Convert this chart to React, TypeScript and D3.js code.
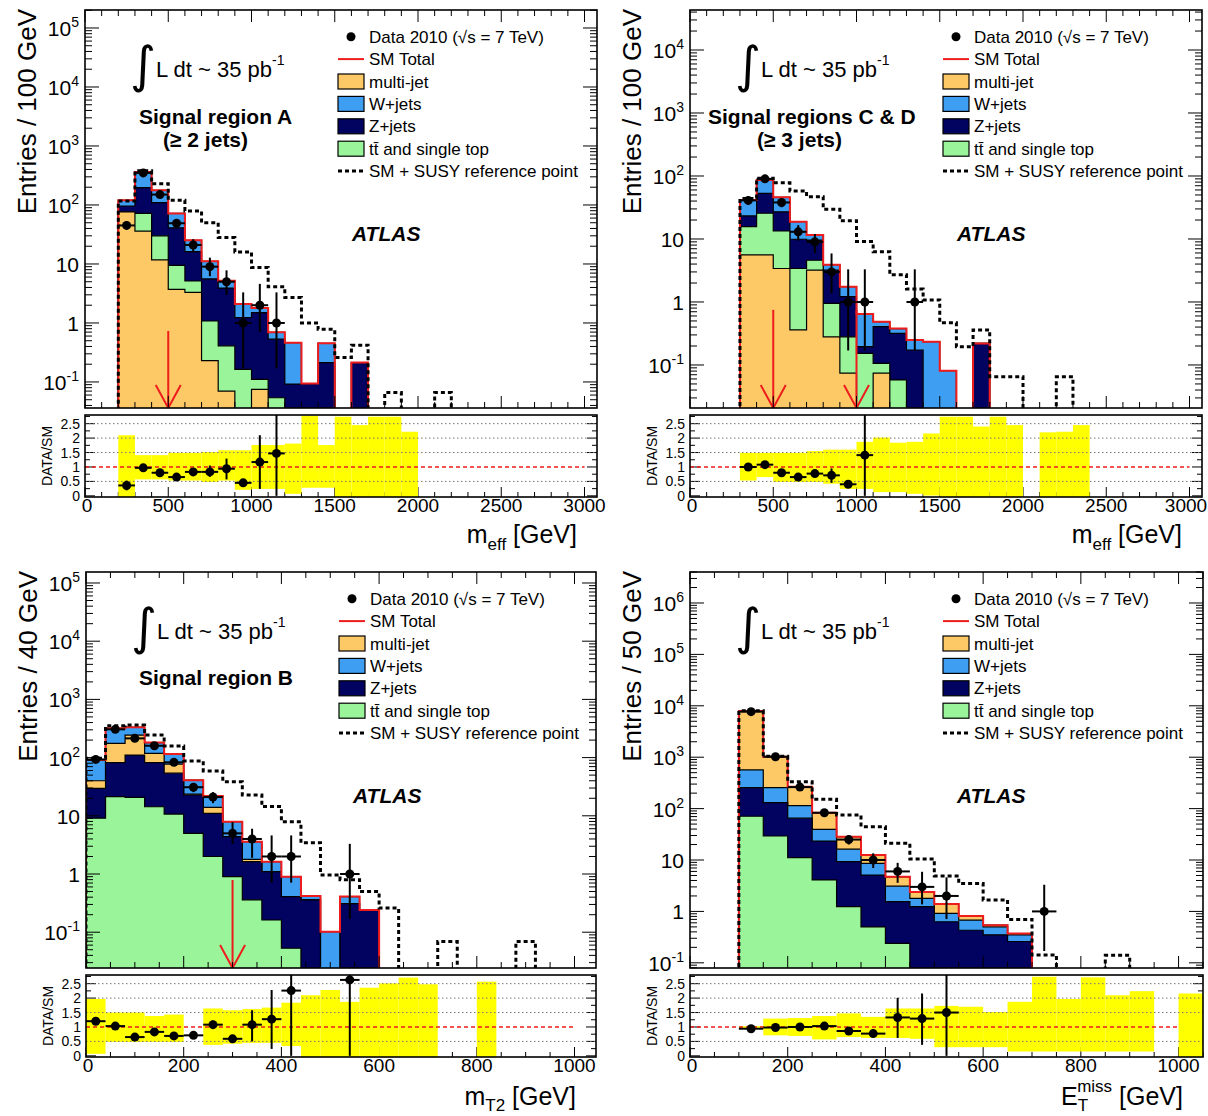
import React from "react";
import * as d3 from "d3";

const FONT = "'Liberation Sans', Arial, Helvetica, sans-serif";
const COLORS: any = { mj: "#fcc966", w: "#3d9ef2", z: "#020260", tt: "#9af59a" };
const C_RED = "#ee1c1c";

// ---------- signal region A : m_eff, 100 GeV bins ----------
const aBins = [200, 300, 400, 500, 600, 700, 800, 900, 1000, 1100, 1200, 1300, 1400, 1500, 1600];
const aMultijet = [76, 36, 11.7, 3.7, 3.3, 0.23, 0.07, 0, 0.075, 0, 0, 0, 0, 0, 0];
const aTop = [0.4, 36, 18.3, 5.8, 1.85, 0.85, 0.34, 0.164, 0.036, 0.054, 0, 0, 0, 0, 0];
const aZjets = [19.6, 125, 80, 31.5, 11, 4.5, 3.5, 1.07, 1.39, 0.48, 0.092, 0.094, 0.213, 0, 0.213];
const aWjets = [24, 165, 67, 31, 9, 5.5, 1.3, 0.87, 0.3, 0.16, 0.37, 0, 0.24, 0, 0];
const aSusyBins = [200, 300, 400, 500, 600, 700, 800, 900, 1000, 1100, 1200, 1300, 1400, 1500, 1600, 1700, 1800, 1900, 2000, 2100];
const aSusy = [117, 380, 229, 120, 79, 50, 28, 16, 8.7, 4.1, 2.7, 1.0, 0.78, 0.26, 0.42, 0, 0.066, 0, 0, 0.066];
const aDataX = [250, 350, 450, 550, 650, 750, 850, 950, 1050, 1150];
const aData = [45, 350, 150, 49, 21, 9, 5, 1, 2, 1];
const aDataLo = [38.4, 331, 137, 41.6, 15.7, 6.2, 3.0, 0.17, 0.71, 0.17];
const aDataHi = [52.7, 369, 163, 56.4, 26.3, 12.8, 7.8, 3.3, 4.6, 3.3];
const aRatio = [0.36, 0.97, 0.8, 0.65, 0.83, 0.83, 0.94, 0.45, 1.17, 1.47];
const aRatioLo = [0.19, 0.92, 0.74, 0.57, 0.72, 0.66, 0.57, 0.42, 0.24, 0];
const aRatioHi = [0.53, 1.02, 0.86, 0.73, 0.95, 1.05, 1.29, 0.48, 2.1, 3.2];
const aBandBins = [200, 300, 400, 500, 600, 700, 800, 900, 1000, 1100, 1200, 1300, 1400, 1500, 1600, 1700, 1800, 1900];
const aBandHi = [2.1, 1.41, 1.41, 1.49, 1.49, 1.52, 1.58, 1.58, 1.76, 1.76, 1.81, 2.77, 1.76, 2.74, 2.45, 2.74, 2.74, 2.22];
const aBandLo = [0, 0.57, 0.57, 0.53, 0.53, 0.48, 0.53, 0.21, 0.24, 0.24, 0.07, 0.28, 0.28, 0, 0, 0, 0, 0];

// ---------- signal regions C & D : m_eff, 100 GeV bins ----------
const cBins = [300, 400, 500, 600, 700, 800, 900, 1000, 1100, 1200, 1300, 1400, 1500, 1600, 1700];
const cMultijet = [5.6, 5.6, 3.4, 0.36, 3.2, 0.28, 0.074, 0, 0.074, 0, 0, 0, 0, 0, 0];
const cTop = [10.1, 20, 10, 3.04, 1.4, 0.67, 0.206, 0.153, 0.032, 0.058, 0, 0, 0, 0, 0];
const cZjets = [7.5, 27.4, 13.6, 6.5, 5.0, 2.25, 0.94, 0.042, 0.3, 0.26, 0.173, 0, 0, 0, 0.22];
const cWjets = [18.4, 33, 19, 8.9, 2.0, 0.7, 0.53, 0.45, 0.08, 0.06, 0.077, 0.234, 0.081, 0, 0];
const cSusyBins = [300, 400, 500, 600, 700, 800, 900, 1000, 1100, 1200, 1300, 1400, 1500, 1600, 1700, 1800, 1900, 2000, 2100, 2200];
const cSusy = [44, 92, 78, 58, 47, 29.6, 19.5, 9.1, 6.3, 2.7, 1.6, 1.08, 0.47, 0.195, 0.36, 0.065, 0.065, 0, 0, 0.065];
const cDataX = [350, 450, 550, 650, 750, 850, 950, 1050, 1350];
const cData = [41, 90, 38, 13, 9, 3, 1, 1, 1];
const cDataLo = [34.6, 80.5, 31.9, 9.4, 6.0, 1.37, 0.17, 0.17, 0.17];
const cDataHi = [47.4, 99.5, 44.1, 16.6, 12.0, 5.9, 3.3, 3.3, 3.3];
const cRatioX = [350, 450, 550, 650, 750, 850, 950, 1050];
const cRatio = [1.0, 1.08, 0.8, 0.65, 0.77, 0.71, 0.4, 1.41];
const cRatioLo = [0.93, 1.02, 0.72, 0.57, 0.68, 0.45, 0.36, 0];
const cRatioHi = [1.07, 1.14, 0.88, 0.73, 0.86, 0.95, 0.44, 3.2];
const cBandBins = [300, 400, 500, 600, 700, 800, 900, 1000, 1100, 1200, 1300, 1400, 1500, 1600, 1700, 1800, 1900, 2000, 2100, 2200, 2300];
const cBandHi = [1.49, 1.49, 1.49, 1.49, 1.55, 1.6, 1.6, 1.87, 2.02, 1.84, 1.87, 2.16, 2.74, 2.74, 2.4, 2.74, 2.45, null, 2.2, 2.22, 2.45];
const cBandLo = [0.53, 0.65, 0.48, 0.48, 0.48, 0.42, 0.24, 0.24, 0.13, 0.13, 0.07, 0.01, 0, 0, 0, 0, 0, null, 0, 0, 0];

// ---------- signal region B : m_T2, 40 GeV bins ----------
const bBins = [0, 40, 80, 120, 160, 200, 240, 280, 320, 360, 400, 440, 480, 520, 560];
const bTop = [9.1, 21.3, 20.7, 14.3, 10.7, 5.0, 2.0, 0.9, 0.36, 0.162, 0.053, 0, 0, 0, 0];
const bZjets = [20.5, 60.7, 90, 67.7, 43.3, 17.8, 9.0, 3.5, 1.27, 0.94, 0.357, 0.36, 0, 0.31, 0.24];
const bMultijet = [10.4, 94, 133, 36, 23, 0.9, 3.0, 0, 0.16, 0, 0, 0, 0, 0, 0];
const bWjets = [51, 143, 87, 63, 38, 17.3, 7.9, 3.5, 1.8, 0.53, 0.49, 0.06, 0.102, 0.1, 0];
const bSusyBins = [0, 40, 80, 120, 160, 200, 240, 280, 320, 360, 400, 440, 480, 520, 560, 600, 640, 680, 720, 760, 800, 840, 880];
const bSusy = [97, 353, 363, 244, 158, 87.5, 59, 38.5, 22.8, 14.4, 7.9, 3.45, 0.96, 0.8, 0.5, 0.26, 0, 0, 0.069, 0, 0, 0, 0.069];
const bDataX = [20, 60, 100, 140, 180, 220, 260, 300, 340, 380, 420, 540];
const bData = [93, 306, 214, 160, 83, 31, 21, 5, 4, 2, 2, 1];
const bDataLo = [83.4, 288.5, 199.4, 147.4, 74, 25.5, 16.5, 3.3, 1.9, 0.71, 0.71, 0.17];
const bDataHi = [102.6, 323.5, 228.6, 172.6, 92, 36.5, 25.5, 7.8, 6.0, 4.6, 4.6, 3.3];
const bRatio = [1.2, 1.03, 0.65, 0.83, 0.69, 0.71, 1.08, 0.59, 1.08, 1.27, 2.26, 2.63];
const bRatioLo = [1.12, 0.97, 0.6, 0.77, 0.63, 0.63, 0.94, 0.54, 0.5, 0.24, 0, 0];
const bRatioHi = [1.28, 1.09, 0.7, 0.89, 0.75, 0.79, 1.22, 0.64, 1.58, 2.28, 3.2, 3.2];
const bBandBins = [0, 40, 80, 120, 160, 200, 240, 280, 320, 360, 400, 440, 480, 520, 560, 600, 640, 680, 720, 760, 800];
const bBandHi = [1.97, 1.5, 1.5, 1.38, 1.43, null, 1.64, 1.58, 1.62, 1.67, 1.84, 2.1, 2.28, 1.87, 2.36, 2.51, 2.71, 2.48, null, null, 2.57];
const bBandLo = [0.07, 0.48, 0.48, 0.48, 0.48, null, 0.38, 0.42, 0.45, 0.45, 0.34, 0, 0, 0, 0, 0, 0, 0, null, null, 0];

// ---------- E_T^miss, 50 GeV bins ----------
const eBins = [100, 150, 200, 250, 300, 350, 400, 450, 500, 550, 600, 650];
const eTop = [71, 29.3, 11.1, 4.1, 1.24, 0.5, 0.24, 0, 0, 0, 0, 0];
const eZjets = [185, 101, 54, 19.3, 8.1, 4.6, 1.31, 1.24, 0.63, 0.43, 0.35, 0.26];
const eWjets = [309, 125, 49, 16.1, 6.9, 3.5, 1.55, 0.56, 0.29, 0.25, 0.15, 0.09];
const eMultijet = [7335, 768, 153, 43.5, 12.2, 3.9, 1.6, 0.6, 0.47, 0.13, 0.04, 0.02];
const eSusyBins = [100, 150, 200, 250, 300, 350, 400, 450, 500, 550, 600, 650, 700, 750, 800, 850];
const eSusy = [8000, 1040, 334, 152, 75, 44.5, 21.1, 10.5, 4.9, 3.5, 1.67, 0.7, 0.142, 0, 0, 0.14];
const eDataX = [125, 175, 225, 275, 325, 375, 425, 475, 525, 725];
const eData = [7700, 1023, 262, 83, 25, 10, 6, 3, 2, 1];
const eDataLo = [7612, 991, 246, 74, 20, 7, 3.6, 1.37, 0.71, 0.17];
const eDataHi = [7788, 1055, 278, 92, 30, 13.5, 8.8, 5.9, 4.6, 3.3];
const eRatioX = [125, 175, 225, 275, 325, 375, 425, 475, 525];
const eRatio = [0.94, 0.98, 1.0, 1.03, 0.86, 0.77, 1.33, 1.29, 1.5];
const eRatioLo = [0.92, 0.95, 0.95, 0.97, 0.78, 0.7, 0.62, 0.38, 0];
const eRatioHi = [0.96, 1.01, 1.05, 1.09, 0.94, 0.84, 2.01, 2.16, 3.2];
const eBandBins = [100, 150, 200, 250, 300, 350, 400, 450, 500, 550, 600, 650, 700, 750, 800, 850, 900, 950, 1000];
const eBandHi = [1.03, 1.29, 1.31, 1.38, 1.47, 1.35, 1.64, 1.64, 1.73, 1.7, 1.52, 1.87, 2.74, 1.97, 2.72, 2.1, 2.24, null, 2.16];
const eBandLo = [0.97, 0.71, 0.69, 0.57, 0.65, 0.62, 0.62, 0.59, 0.3, 0.3, 0.3, 0.15, 0.15, 0.15, 0.15, 0.15, 0.15, null, 0];

const ratioTicks = [0, 0.5, 1, 1.5, 2, 2.5];

function Legend({ left, top }: { left: number; top: number }) {
  const bx = left + 253, tx = left + 284;
  const row = (i: number) => top + 26.7 + 22.4 * i;
  const boxes = [
    { key: "mj", label: "multi-jet" },
    { key: "w", label: "W+jets" },
    { key: "z", label: "Z+jets" },
    { key: "tt", label: "tt\u0304 and single top" },
  ];
  return (
    <g fontSize={17}>
      <circle cx={bx + 13} cy={row(0)} r={4.5} fill="#000" />
      <text x={tx} y={row(0) + 6}>Data 2010 (√s = 7 TeV)</text>
      <line x1={bx} x2={bx + 26} y1={row(1)} y2={row(1)} stroke={C_RED} strokeWidth={2} />
      <text x={tx} y={row(1) + 6}>SM Total</text>
      {boxes.map((b, i) => (
        <g key={b.key}>
          <rect x={bx} y={row(i + 2) - 7.5} width={26} height={15} fill={COLORS[b.key]} stroke="#000" strokeWidth={1.2} />
          <text x={tx} y={row(i + 2) + 6}>{b.label}</text>
        </g>
      ))}
      <line x1={bx} x2={bx + 26} y1={row(6)} y2={row(6)} stroke="#000" strokeWidth={3} strokeDasharray="4 3" />
      <text x={tx} y={row(6) + 6}>SM + SUSY reference point</text>
    </g>
  );
}

function Panel({ c }: { c: any }) {
  const x = d3.scaleLinear().domain(c.xDomain).range([c.left, c.right]);
  const y = d3.scaleLog().domain(c.yDomain).range([c.bottom, c.top]);
  const yr = d3.scaleLinear().domain([-0.04, 2.8]).range([c.rBottom, c.rTop]);
  const floor = c.yDomain[0] * 0.3;
  const yc = (v: number) => y(Math.max(v, floor));
  const half = c.binW / 2;

  const rows = c.bins.map((lo: number, i: number) => {
    const r: any = { lo };
    c.order.forEach((k: string) => (r[k] = c.comps[k][i]));
    return r;
  });
  const series = d3.stack().keys(c.order)(rows);
  const totals = series[series.length - 1].map((d: any) => d[1]);

  const stepLine = d3.line<any>().x((d) => x(d[0])).y((d) => yc(d[1])).curve(d3.curveStepAfter);
  const stepArea = d3.area<any>().x((d) => x(d[0])).y0(c.bottom + 3).y1((d) => yc(d[1])).curve(d3.curveStepAfter);
  const pts = (lo: number[], vals: number[]) => [
    ...lo.map((l, i) => [l, vals[i]]),
    [lo[lo.length - 1] + c.binW, vals[vals.length - 1]],
  ];
  const outline = (lo: number[], vals: number[]) => [[lo[0], 0], ...pts(lo, vals), [lo[lo.length - 1] + c.binW, 0]];

  // log ticks
  const logTicks: { v: number; major: boolean }[] = [];
  const e0 = Math.floor(Math.log10(c.yDomain[0])), e1 = Math.ceil(Math.log10(c.yDomain[1]));
  for (let e = e0; e <= e1; e++)
    for (let k = 1; k <= 9; k++) {
      const v = k * Math.pow(10, e);
      if (v >= c.yDomain[0] && v <= c.yDomain[1]) logTicks.push({ v, major: k === 1 });
    }
  const decades = logTicks.filter((t) => t.major).map((t) => Math.round(Math.log10(t.v)));
  const xTicks = d3.range(0, c.xDomain[1] + 1e-6, c.xMinor).map((v) => ({ v, major: Math.abs(v % c.xMajor) < 1e-6 }));
  const rTicks = d3.range(0, 2.8, 0.25).map((v) => ({ v, major: Math.abs(v % 0.5) < 1e-6 }));

  const W = c.right - c.left;
  const mClip = `clipm-${c.id}`, rClip = `clipr-${c.id}`;

  return (
    <g>
      <defs>
        <clipPath id={mClip}>
          <rect x={c.left} y={c.top} width={W} height={c.bottom - c.top} />
        </clipPath>
        <clipPath id={rClip}>
          <rect x={c.left} y={c.rTop} width={W} height={c.rBottom - c.rTop} />
        </clipPath>
      </defs>

      {/* main histogram */}
      <g clipPath={`url(#${mClip})`}>
        {series
          .slice()
          .reverse()
          .map((s: any) => {
            const vals = s.map((d: any) => d[1]);
            return (
              <g key={s.key}>
                <path d={stepArea(pts(c.bins, vals)) || ""} fill={COLORS[s.key]} />
                <path d={stepLine(outline(c.bins, vals)) || ""} fill="none" stroke="#000" strokeWidth={1.2} />
              </g>
            );
          })}
        <path d={stepLine(outline(c.bins, totals)) || ""} fill="none" stroke={C_RED} strokeWidth={2} />
        <path d={stepLine(outline(c.susyBins, c.susy)) || ""} fill="none" stroke="#000" strokeWidth={3} strokeDasharray="4 3" />
        {c.arrows.map((a: number) => (
          <g key={a} stroke={C_RED} strokeWidth={2} fill="none">
            <line x1={x(a)} x2={x(a)} y1={y(c.arrowTop)} y2={c.bottom} />
            <polyline points={`${x(a) - 12.5},${c.bottom - 23} ${x(a)},${c.bottom} ${x(a) + 12.5},${c.bottom - 23}`} />
          </g>
        ))}
        {c.dataX.map((dx: number, i: number) => (
          <g key={dx} stroke="#000" strokeWidth={2}>
            <line x1={x(dx)} x2={x(dx)} y1={yc(c.dataLo[i])} y2={yc(c.dataHi[i])} />
            <line x1={x(dx - half)} x2={x(dx + half)} y1={y(c.data[i])} y2={y(c.data[i])} />
            <circle cx={x(dx)} cy={y(c.data[i])} r={4.5} fill="#000" stroke="none" />
          </g>
        ))}
      </g>

      {/* main frame and ticks */}
      <rect x={c.left} y={c.top} width={W} height={c.bottom - c.top} fill="none" stroke="#000" strokeWidth={1.6} />
      <g stroke="#000" strokeWidth={1}>
        {logTicks.map((t, i) => {
          const len = t.major ? 14 : 7;
          return (
            <g key={i}>
              <line x1={c.left} x2={c.left + len} y1={y(t.v)} y2={y(t.v)} />
              <line x1={c.right} x2={c.right - len} y1={y(t.v)} y2={y(t.v)} />
            </g>
          );
        })}
        {xTicks.map((t, i) => {
          const len = t.major ? 12 : 6;
          return (
            <g key={i}>
              <line x1={x(t.v)} x2={x(t.v)} y1={c.bottom} y2={c.bottom - len} />
              <line x1={x(t.v)} x2={x(t.v)} y1={c.top} y2={c.top + len} />
              <line x1={x(t.v)} x2={x(t.v)} y1={c.rBottom} y2={c.rBottom - (t.major ? 10 : 5)} />
            </g>
          );
        })}
        {rTicks.map((t, i) => {
          const len = t.major ? 10 : 5;
          return (
            <g key={i}>
              <line x1={c.left} x2={c.left + len} y1={yr(t.v)} y2={yr(t.v)} />
              <line x1={c.right} x2={c.right - len} y1={yr(t.v)} y2={yr(t.v)} />
            </g>
          );
        })}
      </g>
      {decades.map((e) => (
        <text key={e} x={c.left - 6} y={y(Math.pow(10, e)) + 8} textAnchor="end" fontSize={21}>
          {e === 0 ? "1" : e === 1 ? "10" : (
            <>
              10<tspan dy={-9} fontSize={14}>{e}</tspan>
            </>
          )}
        </text>
      ))}
      <text transform={`translate(${c.left - 49},${c.top - 1}) rotate(-90)`} textAnchor="end" fontSize={26}>
        {c.yTitle}
      </text>

      {/* annotations */}
      <text x={c.left + 45} y={c.top + 72} fontSize={50} fontFamily="DejaVu Sans">∫</text>
      <text x={c.left + 71} y={c.top + 66.7} fontSize={22}>
        L dt ~ 35 pb<tspan dy={-12} fontSize={14}>-1</tspan>
      </text>
      {c.region.map((r: any, i: number) => (
        <text key={i} x={r.x} y={c.top + r.dy} fontSize={21} fontWeight="bold">
          {r.text}
        </text>
      ))}
      <text x={c.left + 267} y={c.top + 230.7} fontSize={21} fontWeight="bold" fontStyle="italic">
        ATLAS
      </text>
      <Legend left={c.left} top={c.top} />

      {/* ratio pad */}
      <g clipPath={`url(#${rClip})`}>
        {c.bandBins.map((lo: number, i: number) =>
          c.bandHi[i] == null ? null : (
            <rect
              key={lo}
              x={x(lo)}
              width={x(lo + c.binW) - x(lo)}
              y={yr(c.bandHi[i])}
              height={yr(c.bandLo[i] <= 0 ? -0.04 : c.bandLo[i]) - yr(c.bandHi[i])}
              fill="#ffff00"
            />
          )
        )}
        {[0.5, 1.5, 2, 2.5].map((g) => (
          <line key={g} x1={c.left} x2={c.right} y1={yr(g)} y2={yr(g)} stroke="#777" strokeWidth={1} strokeDasharray="1.5 2.5" />
        ))}
        <line x1={x(0)} x2={x(c.xLabels[c.xLabels.length - 1])} y1={yr(1)} y2={yr(1)} stroke={C_RED} strokeWidth={1.5} strokeDasharray="4 3" />
        {c.ratioX.map((dx: number, i: number) => (
          <g key={dx} stroke="#000" strokeWidth={2}>
            <line x1={x(dx)} x2={x(dx)} y1={yr(c.ratioLo[i])} y2={yr(c.ratioHi[i])} />
            <line x1={x(dx - half)} x2={x(dx + half)} y1={yr(c.ratio[i])} y2={yr(c.ratio[i])} />
            <circle cx={x(dx)} cy={yr(c.ratio[i])} r={4.5} fill="#000" stroke="none" />
          </g>
        ))}
      </g>
      <rect x={c.left} y={c.rTop} width={W} height={c.rBottom - c.rTop} fill="none" stroke="#000" strokeWidth={1.6} />
      {ratioTicks.map((v) => (
        <text key={v} x={c.left - 5} y={yr(v) + 5} textAnchor="end" fontSize={14}>
          {v}
        </text>
      ))}
      <text transform={`translate(${c.left - 33},${(c.rTop + c.rBottom) / 2}) rotate(-90)`} textAnchor="middle" fontSize={14}>
        DATA/SM
      </text>
      {c.xLabels.map((v: number) => (
        <text key={v} x={Math.min(x(v) + (v === 0 ? 2 : 0), 1186)} y={c.rBottom + 15} textAnchor="middle" fontSize={19}>
          {v}
        </text>
      ))}
      <text x={c.right - 20} y={c.xTitleY} textAnchor="end" fontSize={25}>
        {c.xTitle}
      </text>
    </g>
  );
}

const meff = (
  <>
    m<tspan dy={7} fontSize={17}>eff</tspan>
    <tspan dy={-7}> [GeV]</tspan>
  </>
);
const mt2 = (
  <>
    m<tspan dy={6} fontSize={17}>T2</tspan>
    <tspan dy={-6}> [GeV]</tspan>
  </>
);
const etmiss = (
  <>
    E<tspan dy={6} fontSize={17}>T</tspan>
    <tspan dx={-11} dy={-19} fontSize={17}>miss</tspan>
    <tspan dy={13}> [GeV]</tspan>
  </>
);

const panelA = {
  id: "a", left: 85, right: 597, top: 10, bottom: 408, rTop: 415, rBottom: 497,
  xDomain: [0, 3075], xMajor: 500, xMinor: 100, xLabels: [0, 500, 1000, 1500, 2000, 2500, 3000],
  yDomain: [0.0362, 201800],
  bins: aBins, binW: 100, order: ["mj", "tt", "z", "w"],
  comps: { mj: aMultijet, tt: aTop, z: aZjets, w: aWjets },
  susyBins: aSusyBins, susy: aSusy,
  dataX: aDataX, data: aData, dataLo: aDataLo, dataHi: aDataHi,
  ratioX: aDataX, ratio: aRatio, ratioLo: aRatioLo, ratioHi: aRatioHi,
  bandBins: aBandBins, bandHi: aBandHi, bandLo: aBandLo,
  arrows: [500], arrowTop: 0.73,
  yTitle: "Entries / 100 GeV", xTitle: meff, xTitleY: 543,
  region: [{ text: "Signal region A", x: 139, dy: 114 }, { text: "(≥ 2 jets)", x: 163, dy: 136.7 }],
};

const panelC = {
  id: "c", left: 690, right: 1202, top: 10, bottom: 408, rTop: 415, rBottom: 497,
  xDomain: [0, 3075], xMajor: 500, xMinor: 100, xLabels: [0, 500, 1000, 1500, 2000, 2500, 3000],
  yDomain: [0.02075, 43150],
  bins: cBins, binW: 100, order: ["mj", "tt", "z", "w"],
  comps: { mj: cMultijet, tt: cTop, z: cZjets, w: cWjets },
  susyBins: cSusyBins, susy: cSusy,
  dataX: cDataX, data: cData, dataLo: cDataLo, dataHi: cDataHi,
  ratioX: cRatioX, ratio: cRatio, ratioLo: cRatioLo, ratioHi: cRatioHi,
  bandBins: cBandBins, bandHi: cBandHi, bandLo: cBandLo,
  arrows: [500, 1000], arrowTop: 0.75,
  yTitle: "Entries / 100 GeV", xTitle: meff, xTitleY: 543,
  region: [{ text: "Signal regions C & D", x: 708, dy: 114 }, { text: "(≥ 3 jets)", x: 757, dy: 136.7 }],
};

const panelB = {
  id: "b", left: 86, right: 596, top: 572, bottom: 968, rTop: 975, rBottom: 1057,
  xDomain: [0, 1044], xMajor: 200, xMinor: 50, xLabels: [0, 200, 400, 600, 800, 1000],
  yDomain: [0.02427, 154500],
  bins: bBins, binW: 40, order: ["tt", "z", "mj", "w"],
  comps: { mj: bMultijet, tt: bTop, z: bZjets, w: bWjets },
  susyBins: bSusyBins, susy: bSusy,
  dataX: bDataX, data: bData, dataLo: bDataLo, dataHi: bDataHi,
  ratioX: bDataX, ratio: bRatio, ratioLo: bRatioLo, ratioHi: bRatioHi,
  bandBins: bBandBins, bandHi: bBandHi, bandLo: bBandLo,
  arrows: [300], arrowTop: 0.79,
  yTitle: "Entries / 40 GeV", xTitle: mt2, xTitleY: 1105,
  region: [{ text: "Signal region B", x: 139, dy: 113 }],
};

const panelE = {
  id: "e", left: 690, right: 1203, top: 572, bottom: 968, rTop: 975, rBottom: 1057,
  xDomain: [0, 1050], xMajor: 200, xMinor: 50, xLabels: [0, 200, 400, 600, 800, 1000],
  yDomain: [0.0793, 4009000],
  bins: eBins, binW: 50, order: ["tt", "z", "w", "mj"],
  comps: { mj: eMultijet, tt: eTop, z: eZjets, w: eWjets },
  susyBins: eSusyBins, susy: eSusy,
  dataX: eDataX, data: eData, dataLo: eDataLo, dataHi: eDataHi,
  ratioX: eRatioX, ratio: eRatio, ratioLo: eRatioLo, ratioHi: eRatioHi,
  bandBins: eBandBins, bandHi: eBandHi, bandLo: eBandLo,
  arrows: [], arrowTop: 0.75,
  yTitle: "Entries / 50 GeV", xTitle: etmiss, xTitleY: 1105,
  region: [],
};

export default function App() {
  return (
    <svg
      width={1208}
      height={1116}
      style={{ position: "absolute", left: 0, top: 0, background: "#fff" }}
      fontFamily={FONT}
    >
      <rect width={1208} height={1116} fill="#fff" />
      <Panel c={panelA} />
      <Panel c={panelC} />
      <Panel c={panelB} />
      <Panel c={panelE} />
    </svg>
  );
}
